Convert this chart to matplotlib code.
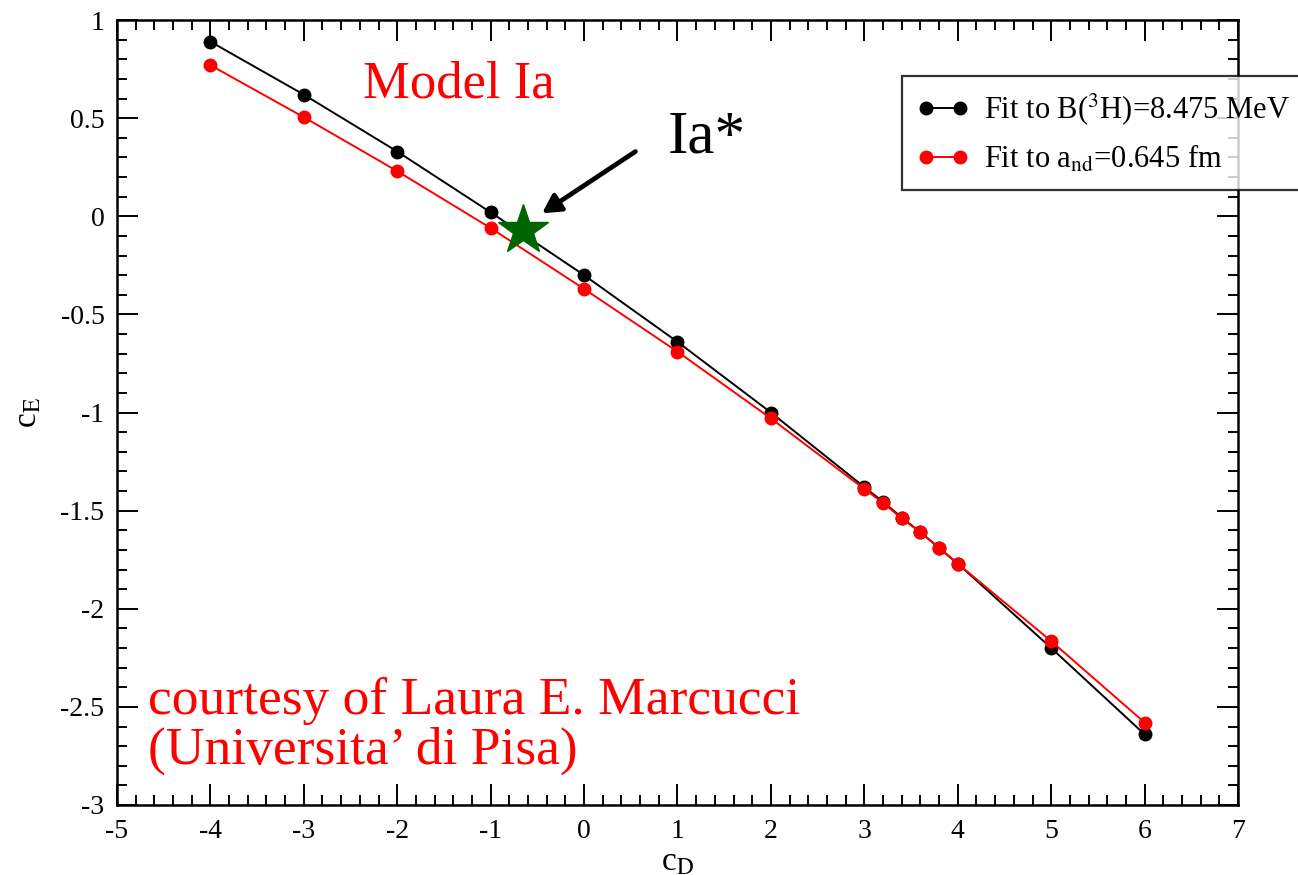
import numpy as np
import matplotlib
matplotlib.use("Agg")
import matplotlib.pyplot as plt
from matplotlib.ticker import MultipleLocator, FuncFormatter

plt.rcParams['font.family'] = ['Liberation Serif', 'DejaVu Serif']
plt.rcParams['mathtext.fontset'] = 'stix'
plt.rcParams['axes.unicode_minus'] = False

# cD / cE pairs for the two fits
cd_values = [-4, -3, -2, -1, 0, 1, 2, 3, 3.2, 3.4, 3.6, 3.8, 4, 5, 6]
ce_triton = [0.89, 0.62, 0.33, 0.02, -0.30, -0.64, -1.00, -1.38, -1.455,
             -1.535, -1.61, -1.69, -1.77, -2.20, -2.64]
ce_and = [0.77, 0.505, 0.23, -0.06, -0.37, -0.69, -1.03, -1.39, -1.46,
          -1.54, -1.61, -1.69, -1.77, -2.165, -2.58]

star_cd, star_ce = -0.65, -0.07


def plain_fmt(v, pos):
    v = round(v, 6)
    if v == 0:
        return '0'
    return '%g' % v


fig = plt.figure(figsize=(12.98, 8.75), dpi=100)
ax = fig.add_axes([0.0901, 0.08, 0.8637, 0.8971])

ax.plot(cd_values, ce_triton, color='black', lw=1.4, marker='o', ms=9,
        label='Fit to B($^3$H)=8.475 MeV')
ax.plot(cd_values, ce_and, color='red', lw=1.4, marker='o', ms=9,
        label='Fit to a$_{\\rm nd}$=0.645 fm')
ax.plot([star_cd], [star_ce], marker='*', color='#006400', ms=38, ls='none')

ax.set_xlim(-5, 7)
ax.set_ylim(-3, 1)
ax.xaxis.set_major_locator(MultipleLocator(1))
ax.xaxis.set_minor_locator(MultipleLocator(0.2))
ax.yaxis.set_major_locator(MultipleLocator(0.5))
ax.yaxis.set_minor_locator(MultipleLocator(0.1))
ax.xaxis.set_major_formatter(FuncFormatter(plain_fmt))
ax.yaxis.set_major_formatter(FuncFormatter(plain_fmt))
ax.tick_params(which='both', direction='in', top=True, right=True,
               labelsize=20, width=1.4)
ax.tick_params(axis='x', which='major', pad=10)
ax.tick_params(axis='y', which='major', pad=9)
ax.tick_params(which='major', length=15)
ax.tick_params(which='minor', length=7)
for sp in ax.spines.values():
    sp.set_linewidth(1.8)

ax.set_xlabel('c$_{\\rm D}$', fontsize=24, labelpad=2)
ax.set_ylabel('c$_{\\rm E}$', fontsize=24, labelpad=12)

leg = ax.legend(loc='upper left', bbox_to_anchor=(902 / 1298, 1 - 76 / 875),
                bbox_transform=fig.transFigure, borderaxespad=0,
                fontsize=22, frameon=True, fancybox=False, shadow=False,
                numpoints=2, handlelength=1.7, handletextpad=0.5,
                borderpad=0.5, labelspacing=0.55)
leg.get_frame().set_edgecolor('black')
leg.get_frame().set_linewidth(1.6)
leg.set_zorder(10)

ax.text(-2.366, 0.607, 'Model Ia', color='red', fontsize=38, va='baseline')
ax.text(0.9, 0.327, 'Ia*', color='black', fontsize=44, va='baseline')
ax.annotate('', xy=(-0.45, 0.015), xytext=(0.55, 0.33),
            arrowprops=dict(arrowstyle='-|>,head_length=1.1,head_width=0.6',
                            color='black', lw=3.4, shrinkA=0, shrinkB=0))
ax.text(-4.668, -2.536, 'courtesy of Laura E. Marcucci', color='red',
        fontsize=38.5, va='baseline')
ax.text(-4.668, -2.791, '(Universita\u2019 di Pisa)', color='red',
        fontsize=38.5, va='baseline')

fig.savefig('out.png', dpi=100)
